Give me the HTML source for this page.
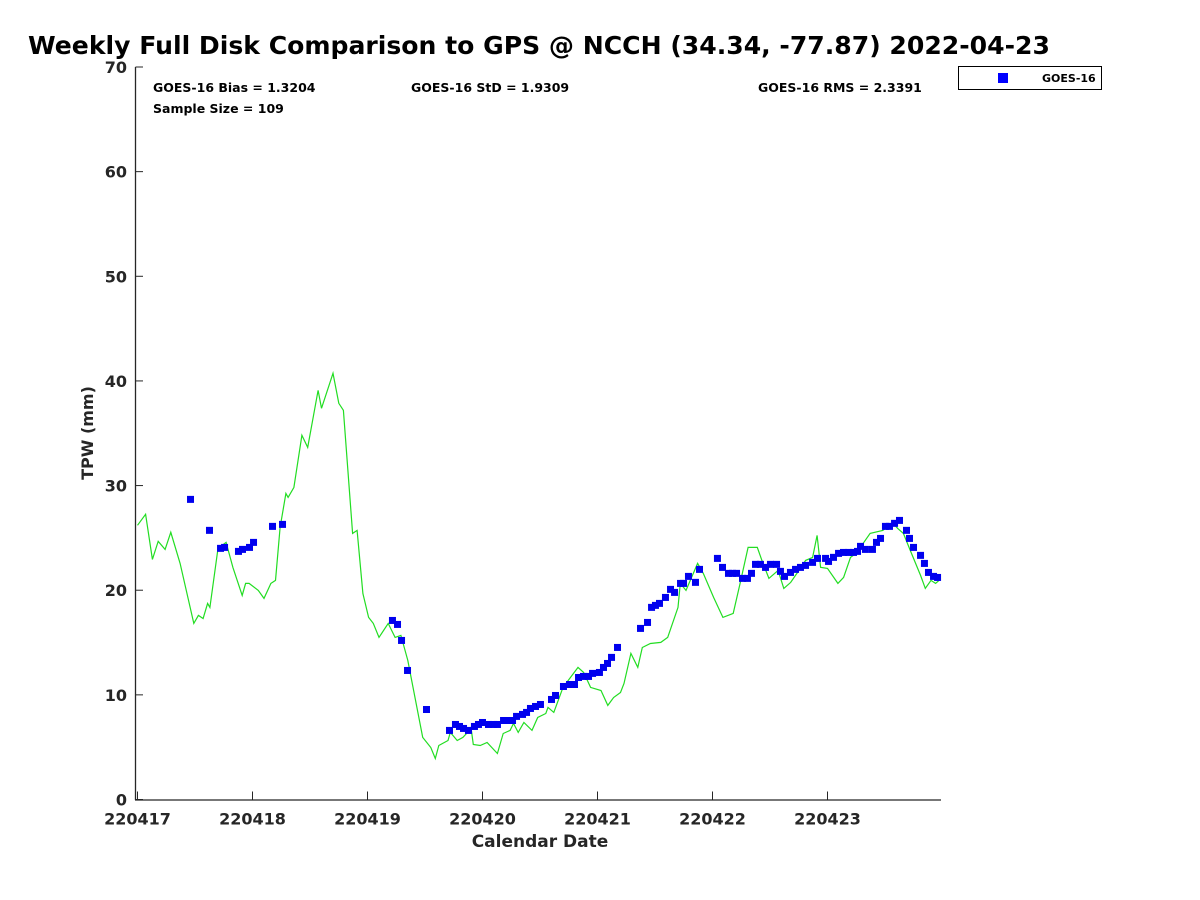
<!DOCTYPE html>
<html><head><meta charset="utf-8"><style>
html,body{margin:0;padding:0;background:#fff;}
svg{display:block;font-family:"DejaVu Sans","Liberation Sans",sans-serif;font-weight:bold;}
</style></head><body>
<svg id="chart" width="1200" height="900" viewBox="0 0 1200 900">
<text x="28" y="54" font-size="25.1" fill="#000">Weekly Full Disk Comparison to GPS @ NCCH (34.34, -77.87) 2022-04-23</text>
<g id="axes"></g>
<g id="series"></g>
<text x="153" y="92" font-size="12.5">GOES-16 Bias = 1.3204</text>
<text x="153" y="113" font-size="12.5">Sample Size = 109</text>
<text x="411" y="92" font-size="12.5">GOES-16 StD = 1.9309</text>
<text x="758" y="92" font-size="12.5">GOES-16 RMS = 2.3391</text>
<g>
<rect x="958.5" y="66.5" width="143" height="23" fill="#fff" stroke="#000" stroke-width="1"/>
<rect x="998" y="73" width="10" height="10" fill="#0000ff"/>
<text x="1042" y="82" font-size="11">GOES-16</text>
</g>
<text x="540" y="847" font-size="17" text-anchor="middle" fill="#262626">Calendar Date</text>
<text transform="translate(93,433) rotate(-90)" font-size="16" text-anchor="middle" fill="#262626">TPW (mm)</text>
</svg>
<script>
const xTickLabels = ["220417","220418","220419","220420","220421","220422","220423"];
const yTickValues = [0,10,20,30,40,50,60,70];
const gpsDays = [0,.07,.13,.18,.24,.29,.37,.49,.53,.57,.61,.63,.70,.77,.83,.91,.94,.97,1.05,1.10,1.16,1.20,1.24,1.29,1.31,1.36,1.43,1.48,1.57,1.60,1.70,1.75,1.79,1.87,1.91,1.96,2.01,2.05,2.10,2.18,2.24,2.29,2.35,2.48,2.55,2.59,2.62,2.70,2.72,2.78,2.83,2.87,2.90,2.92,2.98,3.04,3.13,3.18,3.24,3.27,3.31,3.36,3.43,3.48,3.55,3.57,3.62,3.70,3.83,3.88,3.94,4.03,4.09,4.14,4.20,4.23,4.29,4.35,4.39,4.46,4.55,4.61,4.70,4.72,4.77,4.87,4.92,5.01,5.09,5.18,5.24,5.31,5.39,5.43,5.49,5.57,5.62,5.68,5.77,5.81,5.87,5.91,5.94,6.00,6.09,6.14,6.20,6.26,6.31,6.37,6.48,6.57,6.61,6.66,6.72,6.81,6.85,6.90,6.94,6.97];
const gpsValues = [26.2,27.25,22.94,24.67,23.9,25.53,22.56,16.83,17.59,17.3,18.74,18.36,24.0,24.57,22.18,19.5,20.65,20.65,19.98,19.22,20.65,20.94,26.0,29.25,28.87,29.83,34.8,33.65,39.1,37.38,40.73,37.86,37.19,25.43,25.72,19.69,17.4,16.83,15.49,16.83,15.49,15.68,13.29,5.93,4.97,3.92,5.16,5.64,6.41,5.64,5.93,6.41,6.88,5.26,5.16,5.45,4.4,6.31,6.6,7.27,6.41,7.36,6.6,7.84,8.22,8.8,8.32,10.71,12.62,12.14,10.71,10.42,8.99,9.75,10.23,11.09,13.96,12.62,14.53,14.91,15.01,15.49,18.36,20.65,19.98,22.56,21.61,19.31,17.4,17.78,20.65,24.09,24.09,22.85,21.13,21.89,20.17,20.75,22.18,22.85,23.14,25.24,22.18,22.08,20.65,21.22,23.14,23.61,24.47,25.43,25.72,26.39,25.91,25.43,23.8,21.41,20.17,20.94,20.65,20.94];
const goesDays = [.461,.626,.722,.757,.878,.913,.974,1.009,1.174,1.261,2.217,2.261,2.296,2.348,2.513,2.713,2.765,2.8,2.835,2.878,2.93,2.965,3.0,3.052,3.096,3.13,3.183,3.217,3.261,3.296,3.348,3.383,3.417,3.461,3.504,3.6,3.635,3.704,3.757,3.8,3.835,3.878,3.922,3.957,4.017,4.052,4.087,4.122,4.174,4.374,4.435,4.47,4.504,4.539,4.591,4.635,4.67,4.722,4.748,4.791,4.852,4.887,5.043,5.087,5.139,5.174,5.209,5.261,5.304,5.339,5.374,5.417,5.461,5.504,5.557,5.591,5.626,5.678,5.722,5.765,5.809,5.87,5.913,5.983,6.009,6.052,6.096,6.139,6.183,6.226,6.261,6.287,6.33,6.391,6.426,6.461,6.504,6.539,6.583,6.626,6.687,6.713,6.748,6.809,6.843,6.878,6.922,6.957];
const goesValues = [28.68,25.72,24.0,24.09,23.71,23.9,24.09,24.57,26.1,26.29,17.11,16.73,15.2,12.33,8.6,6.6,7.17,6.98,6.79,6.6,6.98,7.17,7.36,7.17,7.17,7.17,7.55,7.55,7.55,7.94,8.13,8.32,8.7,8.89,9.08,9.56,9.94,10.8,10.99,10.99,11.66,11.76,11.76,12.05,12.14,12.62,13.0,13.58,14.53,16.35,16.92,18.36,18.55,18.74,19.31,20.08,19.79,20.65,20.65,21.32,20.75,21.99,23.04,22.18,21.61,21.61,21.61,21.13,21.13,21.61,22.47,22.47,22.18,22.47,22.47,21.8,21.32,21.7,21.99,22.18,22.37,22.66,23.04,23.04,22.75,23.14,23.52,23.61,23.61,23.61,23.71,24.19,23.9,23.9,24.57,24.95,26.1,26.1,26.39,26.67,25.72,24.95,24.09,23.33,22.56,21.7,21.32,21.22];

const NS='http://www.w3.org/2000/svg';
const X0=137.5, DAYPX=115, Y0=799.5, YTOP=67;
function xScale(d){return X0+d*DAYPX;}
function yScale(v){return Y0-v*(Y0-YTOP)/70;}
function mk(tag,attrs,parent){const e=document.createElementNS(NS,tag);for(const k in attrs)e.setAttribute(k,attrs[k]);parent.appendChild(e);return e;}
const axes=document.getElementById('axes');
const series=document.getElementById('series');

let a=mk('line',{x1:135.5,y1:YTOP,x2:135.5,y2:Y0+0.5,stroke:'#262626','stroke-width':1.3},axes);


a=mk('line',{x1:135,y1:Y0+0.5,x2:941,y2:Y0+0.5,stroke:'#262626','stroke-width':1.3},axes);



yTickValues.forEach(v=>{
  const y=yScale(v);
  const t=mk('line',{x1:135.5,y1:y,x2:143,y2:y,stroke:'#262626','stroke-width':1},axes);
  
  
  const l=mk('text',{x:127,y:y+6,'font-size':16,'text-anchor':'end',fill:'#262626'},axes);
  l.textContent=String(v);
  
  
});
xTickLabels.forEach((lab,i)=>{
  const x=xScale(i);
  const t=mk('line',{x1:x,y1:Y0,x2:x,y2:Y0-8,stroke:'#262626','stroke-width':1},axes);
  
  
  const l=mk('text',{x:x,y:Y0+25,'font-size':16,'text-anchor':'middle',fill:'#262626'},axes);
  l.textContent=lab;
  
  
});

const pts=gpsDays.map((d,i)=>xScale(d).toFixed(1)+','+yScale(gpsValues[i]).toFixed(1)).join(' ');
const pl=mk('polyline',{points:pts,fill:'none',stroke:'#22dd22','stroke-width':1.2},series);



goesDays.forEach((d,i)=>{
  const r=mk('rect',{x:xScale(d)-3.5,y:yScale(goesValues[i])-3.5,width:7,height:7,fill:'#0000ee'},series);
  
  
});
</script>
</body></html>
